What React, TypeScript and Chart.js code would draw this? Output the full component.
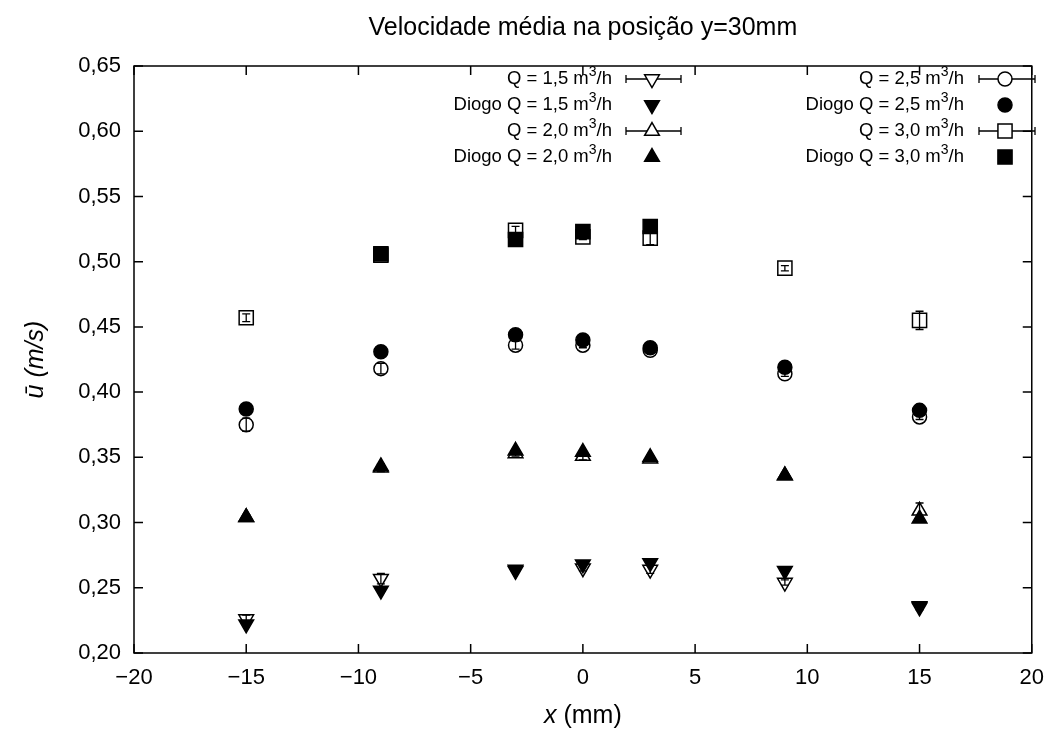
import React, { useEffect, useRef } from 'react';
import { Chart, registerables } from 'chart.js';

Chart.register(...registerables);

// ---- data ----
const xPositions = [-15, -9, -3, 0, 3, 9, 15];
const q15 = [0.226, 0.257, 0.264, 0.265, 0.264, 0.254, 0.235];
const q15Err = [0.003, 0.004, 0.002, 0.002, 0.003, 0.002, 0.002];
const diogo15 = [0.222, 0.248, 0.263, 0.268, 0.269, 0.263, 0.236];
const q20 = [0.304, 0.342, 0.353, 0.351, 0.349, 0.336, 0.309];
const q20Err = [0.002, 0.003, 0.002, 0.003, 0.002, 0.002, 0.006];
const diogo20 = [0.304, 0.343, 0.355, 0.354, 0.350, 0.336, 0.303];
const q25 = [0.375, 0.418, 0.436, 0.436, 0.432, 0.414, 0.381];
const q25Err = [0.005, 0.004, 0.003, 0.002, 0.002, 0.002, 0.002];
const diogo25 = [0.387, 0.431, 0.444, 0.440, 0.434, 0.419, 0.386];
const q30 = [0.457, 0.505, 0.524, 0.519, 0.518, 0.495, 0.455];
const q30Err = [0.003, 0.002, 0.003, 0.002, 0.005, 0.002, 0.007];
const diogo30X = [-9, -3, 0, 3];
const diogo30 = [0.506, 0.517, 0.523, 0.527];

const titleText = 'Velocidade média na posição y=30mm';
const xTicks = [-20, -15, -10, -5, 0, 5, 10, 15, 20];
const yTicks = [0.2, 0.25, 0.3, 0.35, 0.4, 0.45, 0.5, 0.55, 0.6, 0.65];

const FONT = '"Liberation Sans", Arial, Helvetica, sans-serif';
const TICK_SIZE = 22;
const TITLE_SIZE = 25;
const LABEL_SIZE = 25;
const LEG_SIZE = 18.5;

type Series = {
  label: string;
  flow: string;
  xs: number[];
  ys: number[];
  err?: number[];
  style: 'triangle' | 'circle' | 'rect';
  rotation: number;
  filled: boolean;
  radius: number;
};

const series: Series[] = [
  { label: 'Q = ', flow: '1,5', xs: xPositions, ys: q15, err: q15Err, style: 'triangle', rotation: 180, filled: false, radius: 8.5 },
  { label: 'Diogo Q = ', flow: '1,5', xs: xPositions, ys: diogo15, style: 'triangle', rotation: 180, filled: true, radius: 8.5 },
  { label: 'Q = ', flow: '2,0', xs: xPositions, ys: q20, err: q20Err, style: 'triangle', rotation: 0, filled: false, radius: 8.5 },
  { label: 'Diogo Q = ', flow: '2,0', xs: xPositions, ys: diogo20, style: 'triangle', rotation: 0, filled: true, radius: 8.5 },
  { label: 'Q = ', flow: '2,5', xs: xPositions, ys: q25, err: q25Err, style: 'circle', rotation: 0, filled: false, radius: 7 },
  { label: 'Diogo Q = ', flow: '2,5', xs: xPositions, ys: diogo25, style: 'circle', rotation: 0, filled: true, radius: 7 },
  { label: 'Q = ', flow: '3,0', xs: xPositions, ys: q30, err: q30Err, style: 'rect', rotation: 0, filled: false, radius: 10 },
  { label: 'Diogo Q = ', flow: '3,0', xs: diogo30X, ys: diogo30, style: 'rect', rotation: 0, filled: true, radius: 10 },
];

function markerPath(ctx: CanvasRenderingContext2D, s: Series, x: number, y: number) {
  ctx.beginPath();
  const r = s.radius;
  if (s.style === 'circle') {
    ctx.arc(x, y, r, 0, Math.PI * 2);
  } else if (s.style === 'rect') {
    const h = r * Math.SQRT1_2;
    ctx.rect(x - h, y - h, 2 * h, 2 * h);
  } else {
    let rad = (s.rotation * Math.PI) / 180;
    ctx.moveTo(x + Math.sin(rad) * r, y - Math.cos(rad) * r);
    rad += (2 * Math.PI) / 3;
    ctx.lineTo(x + Math.sin(rad) * r, y - Math.cos(rad) * r);
    rad += (2 * Math.PI) / 3;
    ctx.lineTo(x + Math.sin(rad) * r, y - Math.cos(rad) * r);
    ctx.closePath();
  }
}

function drawMarker(ctx: CanvasRenderingContext2D, s: Series, x: number, y: number, whiteFill: boolean) {
  ctx.save();
  markerPath(ctx, s, x, y);
  ctx.lineWidth = 1.5;
  ctx.strokeStyle = '#000';
  if (s.filled) {
    ctx.fillStyle = '#000';
    ctx.fill();
  } else if (whiteFill) {
    ctx.fillStyle = '#fff';
    ctx.fill();
  }
  ctx.stroke();
  ctx.restore();
}

function legendParts(s: Series) {
  return [
    { t: s.label + s.flow + ' m', sup: false },
    { t: '3', sup: true },
    { t: '/h', sup: false },
  ];
}

function drawRichRight(ctx: CanvasRenderingContext2D, parts: { t: string; sup: boolean }[], xRight: number, y: number) {
  const normal = `${LEG_SIZE}px ${FONT}`;
  const small = `${Math.round(LEG_SIZE * 0.75)}px ${FONT}`;
  let total = 0;
  for (const p of parts) {
    ctx.font = p.sup ? small : normal;
    total += ctx.measureText(p.t).width;
  }
  let x = xRight - total;
  ctx.textBaseline = 'middle';
  ctx.textAlign = 'left';
  ctx.fillStyle = '#000';
  for (const p of parts) {
    ctx.font = p.sup ? small : normal;
    ctx.fillText(p.t, x, p.sup ? y - 7 : y);
    x += ctx.measureText(p.t).width;
  }
}

const decorPlugin = {
  id: 'decor',
  afterDatasetsDraw(chart: any) {
    const ctx: CanvasRenderingContext2D = chart.ctx;
    const xs = chart.scales.x;
    const ys = chart.scales.y;
    const area = chart.chartArea;
    ctx.save();
    // error bars
    ctx.strokeStyle = '#000';
    ctx.lineWidth = 1.3;
    for (const s of series) {
      if (!s.err) continue;
      s.xs.forEach((xv, i) => {
        const px = xs.getPixelForValue(xv);
        const y1 = ys.getPixelForValue(s.ys[i] - s.err![i]);
        const y2 = ys.getPixelForValue(s.ys[i] + s.err![i]);
        ctx.beginPath();
        ctx.moveTo(px, y1);
        ctx.lineTo(px, y2);
        ctx.moveTo(px - 4, y1);
        ctx.lineTo(px + 4, y1);
        ctx.moveTo(px - 4, y2);
        ctx.lineTo(px + 4, y2);
        ctx.stroke();
      });
    }
    // frame
    ctx.lineWidth = 1.5;
    ctx.strokeRect(area.left, area.top, area.right - area.left, area.bottom - area.top);
    // inner ticks
    const tl = 9;
    ctx.beginPath();
    for (const v of xTicks) {
      const px = xs.getPixelForValue(v);
      ctx.moveTo(px, area.bottom);
      ctx.lineTo(px, area.bottom - tl);
      ctx.moveTo(px, area.top);
      ctx.lineTo(px, area.top + tl);
    }
    for (const v of yTicks) {
      const py = ys.getPixelForValue(v);
      ctx.moveTo(area.left, py);
      ctx.lineTo(area.left + tl, py);
      ctx.moveTo(area.right, py);
      ctx.lineTo(area.right - tl, py);
    }
    ctx.stroke();

    // legend (two columns, inside)
    const rowY = [79, 105, 131, 157];
    const cols = [
      { textRight: 612, sym: 652, l: 626, r: 681 },
      { textRight: 964, sym: 1005, l: 979, r: 1035 },
    ];
    series.forEach((s, i) => {
      const c = cols[Math.floor(i / 4)];
      const y = rowY[i % 4];
      drawRichRight(ctx, legendParts(s), c.textRight, y);
      if (s.err) {
        ctx.beginPath();
        ctx.lineWidth = 1.3;
        ctx.moveTo(c.l, y);
        ctx.lineTo(c.r, y);
        ctx.moveTo(c.l, y - 4);
        ctx.lineTo(c.l, y + 4);
        ctx.moveTo(c.r, y - 4);
        ctx.lineTo(c.r, y + 4);
        ctx.stroke();
      }
      drawMarker(ctx, s, c.sym, y, true);
    });

    // title
    ctx.fillStyle = '#000';
    ctx.textAlign = 'center';
    ctx.textBaseline = 'middle';
    ctx.font = `${TITLE_SIZE}px ${FONT}`;
    ctx.fillText(titleText, (area.left + area.right) / 2, 28);

    // x axis label: italic x + regular (mm)
    const xl1 = 'x';
    const xl2 = ' (mm)';
    ctx.font = `italic ${LABEL_SIZE}px ${FONT}`;
    const w1 = ctx.measureText(xl1).width;
    ctx.font = `${LABEL_SIZE}px ${FONT}`;
    const w2 = ctx.measureText(xl2).width;
    const cx = (area.left + area.right) / 2;
    const sx = cx - (w1 + w2) / 2;
    ctx.textAlign = 'left';
    ctx.font = `italic ${LABEL_SIZE}px ${FONT}`;
    ctx.fillText(xl1, sx, 716);
    ctx.font = `${LABEL_SIZE}px ${FONT}`;
    ctx.fillText(xl2, sx + w1, 716);

    // y axis label rotated, italic
    ctx.save();
    ctx.translate(36, (area.top + area.bottom) / 2);
    ctx.rotate(-Math.PI / 2);
    ctx.textAlign = 'center';
    ctx.font = `italic ${LABEL_SIZE}px ${FONT}`;
    ctx.fillText('ū (m/s)', 0, 0);
    ctx.restore();

    ctx.restore();
  },
};

export default function App() {
  const ref = useRef<HTMLCanvasElement | null>(null);
  useEffect(() => {
    document.body.style.margin = '0';
    if (!ref.current) return;
    const chart = new Chart(ref.current, {
      type: 'scatter',
      data: {
        datasets: series.map((s) => ({
          label: s.label + s.flow,
          data: s.xs.map((x, i) => ({ x, y: s.ys[i] })),
          pointStyle: s.style,
          rotation: s.rotation,
          pointRadius: s.radius,
          pointHoverRadius: s.radius,
          borderColor: '#000',
          pointBorderColor: '#000',
          backgroundColor: s.filled ? '#000' : 'rgba(0,0,0,0)',
          pointBackgroundColor: s.filled ? '#000' : 'rgba(0,0,0,0)',
          pointBorderWidth: 1.5,
          showLine: false,
        })),
      },
      options: {
        animation: false,
        responsive: true,
        maintainAspectRatio: false,
        layout: { padding: { left: 0, right: 23, top: 66, bottom: 0 } },
        plugins: {
          legend: { display: false },
          title: { display: false },
          tooltip: { enabled: false },
        },
        scales: {
          x: {
            type: 'linear',
            min: -20,
            max: 20,
            afterFit: (scale: any) => {
              scale.height = 83;
            },
            afterBuildTicks: (scale: any) => {
              scale.ticks = xTicks.map((v) => ({ value: v }));
            },
            grid: { display: false, drawTicks: false },
            border: { display: false },
            ticks: {
              padding: 12,
              color: '#000',
              font: { family: FONT, size: TICK_SIZE },
              callback: (v: any) => (Number(v) < 0 ? '\u2212' + Math.abs(Number(v)) : String(v)),
            },
          },
          y: {
            type: 'linear',
            min: 0.2,
            max: 0.65,
            afterFit: (scale: any) => {
              scale.width = 134;
            },
            afterBuildTicks: (scale: any) => {
              scale.ticks = yTicks.map((v) => ({ value: v }));
            },
            grid: { display: false, drawTicks: false },
            border: { display: false },
            ticks: {
              padding: 13,
              color: '#000',
              font: { family: FONT, size: TICK_SIZE },
              callback: (v: any) => Number(v).toFixed(2).replace('.', ','),
            },
          },
        },
      },
      plugins: [decorPlugin],
    });
    return () => chart.destroy();
  }, []);
  return (
    <div style={{ width: 1056, height: 736, position: 'relative', background: '#fff' }}>
      <canvas ref={ref} />
    </div>
  );
}
